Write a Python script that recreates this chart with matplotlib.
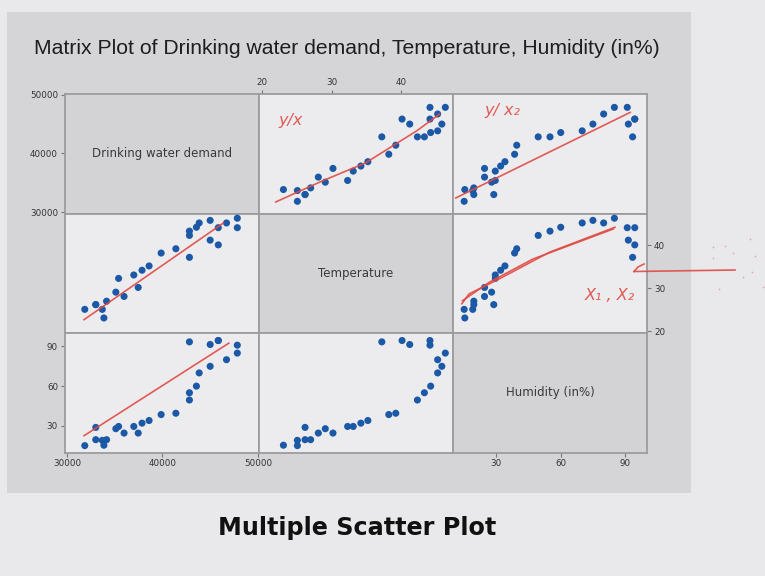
import matplotlib.pyplot as plt
from matplotlib.patches import Rectangle
from matplotlib.lines import Line2D

W, H = 765, 576

# one row per observation
temperature = [23.1, 25.1, 25.1, 26.2, 26.2, 27.0, 28.1, 29.1, 30.2, 32.3, 33.1, 34.2, 35.2, 37.2,
               38.2, 39.2, 40.1, 41.2, 42.3, 43.3, 44.1, 44.1, 44.2, 45.2, 45.2, 45.8, 46.3]
water_demand = [33870, 33700, 31870, 33020, 33020, 34150, 35980, 35120, 37460, 35410, 37000, 37860,
                38600, 42820, 39860, 41400, 45840, 44990, 42820, 42820, 47830, 45840, 43550, 46700,
                43840, 44990, 47830]
humidity = [15.3, 19.0, 15.0, 28.8, 19.5, 19.5, 24.5, 27.8, 24.5, 29.5, 29.5, 32.0, 34.0, 93.5,
            38.5, 39.5, 94.5, 91.5, 49.5, 55.0, 91.0, 94.5, 60.0, 80.0, 70.0, 75.0, 85.0]

variables = [water_demand, temperature, humidity]
names = ["Drinking water demand", "Temperature", "Humidity (in%)"]
limits = [(29800, 50100), (19.6, 47.4), (9.8, 100.2)]
ticks = [[30000, 40000, 50000], [20, 30, 40], [30, 60, 90]]

# pen strokes drawn over the matrix, (panel row, panel col): list of strokes in data units
strokes = {
    (0, 1): [[(22.0, 31760), (28.6, 35290), (34.9, 38420), (42.2, 43840), (45.5, 46700)]],
    (0, 2): [[(11.1, 32440), (92.4, 46980)]],
    (1, 0): [[(31790, 22.7), (46380, 45.2)]],
    (2, 0): [[(31790, 22.5), (46940, 92.5)]],
    (1, 2): [[(13.9, 26.4), (17.3, 28.7), (31.4, 32.2), (54.8, 38.4), (85.3, 44.2)],
             [(14.2, 27.1), (26.7, 31.4), (47.0, 36.8), (84.5, 43.8)]],
}
notes = [("y/x", 291, 121), ("y/ x\u2082", 502, 111), ("X\u2081 , X\u2082", 610, 296)]

# matrix frame in pixels
left, top = 65, 94
cell_w, cell_h = 194, 119.5

RED = "#e04a44"
BLUE = "#1b59a6"
BORDER = "#9c9c9e"


def fx(px):
    return px / W


def fy(py):
    return 1 - py / H


fig = plt.figure(figsize=(W / 100, H / 100), dpi=100, facecolor="#e9e9eb")
fig.patches.append(Rectangle((fx(7), fy(493)), fx(691 - 7), (493 - 12) / H,
                             transform=fig.transFigure, facecolor="#d5d5d7",
                             edgecolor="none", zorder=-10))

fig.text(fx(34), fy(48), "Matrix Plot of Drinking water demand, Temperature, Humidity (in%)",
         fontsize=15.2, color="#1e1e1e", va="center", ha="left", family="Liberation Sans")
fig.text(fx(357), fy(528), "Multiple Scatter Plot", fontsize=17.2, fontweight="bold",
         color="#111111", ha="center", va="center", family="DejaVu Sans")

for i in range(3):
    for j in range(3):
        x0 = left + j * cell_w
        y0 = top + (i + 1) * cell_h
        ax = fig.add_axes([fx(x0), fy(y0), cell_w / W, cell_h / H])
        ax.set_xlim(limits[j])
        ax.set_ylim(limits[i])
        ax.set_xticks([])
        ax.set_yticks([])
        for sp in ax.spines.values():
            sp.set_color(BORDER)
            sp.set_linewidth(1.3)
        if i == j:
            ax.set_facecolor("#d3d3d5")
            ax.text(0.5, 0.5, names[i], transform=ax.transAxes, ha="center", va="center",
                    fontsize=8.5, color="#3a3a3a")
        else:
            ax.set_facecolor("#ececee")
            ax.scatter(variables[j], variables[i], s=26, color=BLUE, edgecolors="none", zorder=3)
            for line in strokes.get((i, j), []):
                xs, ys = zip(*line)
                ax.plot(xs, ys, color=RED, lw=1.2, alpha=0.9, zorder=4)

        tick_style = dict(labelsize=6.3, labelcolor="#333333", color="#777777", length=3, width=0.8)
        if j == 0 and i in (0, 2):
            ax.set_yticks(ticks[i])
            ax.tick_params(axis="y", left=True, labelleft=True, pad=2, **tick_style)
        if i == 2 and j in (0, 2):
            ax.set_xticks(ticks[j])
            ax.tick_params(axis="x", bottom=True, labelbottom=True, pad=2, **tick_style)
        if i == 0 and j == 1:
            ax.set_xticks(ticks[j])
            ax.tick_params(axis="x", top=True, labeltop=True, bottom=False, labelbottom=False,
                           pad=2, **tick_style)
        if i == 1 and j == 2:
            ax.set_yticks(ticks[i])
            ax.tick_params(axis="y", right=True, labelright=True, left=False, labelleft=False,
                           pad=2, **tick_style)

# handwritten notes
for txt, px, py in notes:
    fig.text(fx(px), fy(py), txt, color=RED, fontsize=11.5, fontstyle="italic",
             ha="center", va="center", alpha=0.9)

# arrow pointing at the Temperature axis
fig.lines.append(Line2D([fx(735), fx(634)], [fy(270), fy(271.5)], transform=fig.transFigure,
                        color=RED, lw=1.2, alpha=0.9))
fig.lines.append(Line2D([fx(634), fx(638), fx(644)], [fy(271.5), fy(267), fy(264)],
                        transform=fig.transFigure, color=RED, lw=1.2, alpha=0.9))
dot_x = [713, 725, 733, 713, 750, 755, 743, 752, 719, 763]
dot_y = [247, 246, 253, 258, 239, 256, 277, 272, 289, 287]
fig.lines.append(Line2D([fx(v) for v in dot_x], [fy(v) for v in dot_y], transform=fig.transFigure,
                        ls="none", marker="o", ms=1.2, color=RED, alpha=0.45, mec="none"))

fig.savefig("out.png", dpi=100, facecolor=fig.get_facecolor())
